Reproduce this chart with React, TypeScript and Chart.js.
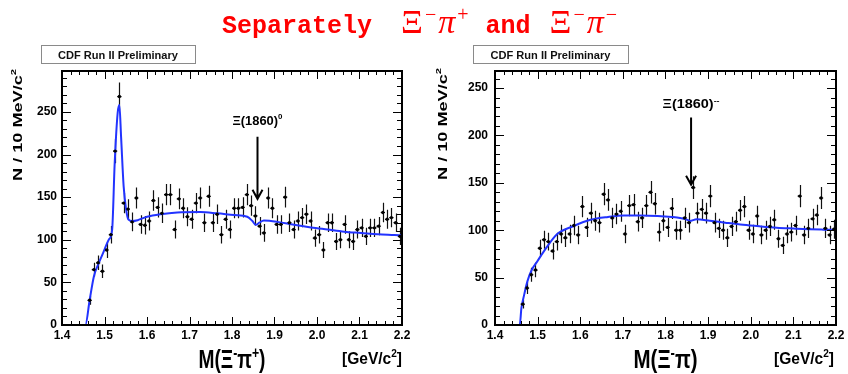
import React, { useEffect, useRef } from "react";
import { Chart, registerables } from "chart.js";

Chart.register(...registerables);

const FONT = '"Liberation Sans", Arial, Helvetica, sans-serif';

// ---- Data ----
const BIN_CENTERS = [
  1.405, 1.415, 1.425, 1.435, 1.445, 1.455, 1.465, 1.475, 1.485, 1.495,
  1.505, 1.515, 1.525, 1.535, 1.545, 1.555, 1.565, 1.575, 1.585, 1.595,
  1.605, 1.615, 1.625, 1.635, 1.645, 1.655, 1.665, 1.675, 1.685, 1.695,
  1.705, 1.715, 1.725, 1.735, 1.745, 1.755, 1.765, 1.775, 1.785, 1.795,
  1.805, 1.815, 1.825, 1.835, 1.845, 1.855, 1.865, 1.875, 1.885, 1.895,
  1.905, 1.915, 1.925, 1.935, 1.945, 1.955, 1.965, 1.975, 1.985, 1.995,
  2.005, 2.015, 2.025, 2.035, 2.045, 2.055, 2.065, 2.075, 2.085, 2.095,
  2.105, 2.115, 2.125, 2.135, 2.145, 2.155, 2.165, 2.175, 2.185, 2.195,
];

const XI_PI_PLUS_COUNTS: (number | null)[] = [
  null, null, null, null, null, null, 29, 65, 73, 63,
  88, 106, 204, 268, 143, 136, 121, 149, 118, 117,
  122, 146, 138, 131, 153, 153, 112, 148, 137, 127,
  124, 143, 149, 120, 151, 120, 130, 106, 124, 112,
  137, 137, 138, 153, 140, 128, 116, 108, 149, 137,
  118, 118, 150, 120, 112, 122, 126, 130, 122, 102,
  106, 88, 120, 120, 98, 100, 118, 100, 98, 112,
  114, 104, 114, 114, 116, 132, 124, 126, 120, 104,
];

const XI_PI_MINUS_COUNTS: (number | null)[] = [
  null, null, null, null, null, null, 22, 39, 53, 58,
  81, 90, 88, 78, 88, 96, 92, 96, 105, 95,
  125, 103, 118, 110, 108, 138, 132, 113, 117, 120,
  96, 126, 127, 109, 113, 126, 140, 128, 98, 110,
  103, 123, 100, 100, 113, 108, 145, 118, 122, 118,
  136, 108, 102, 100, 92, 104, 109, 121, 125, 100,
  96, 115, 95, 100, 104, 111, 91, 84, 96, 98,
  105, 136, 95, 102, 112, 116, 134, 102, 95, 101,
];

const FIT_PLUS_X = [
  1.4, 1.455, 1.465, 1.475, 1.486, 1.498, 1.51, 1.518, 1.524, 1.531,
  1.535, 1.539, 1.545, 1.551, 1.556, 1.565, 1.578, 1.6, 1.632, 1.671,
  1.726, 1.765, 1.805, 1.836, 1.848, 1.856, 1.864, 1.875, 1.907, 1.946,
  1.986, 2.025, 2.064, 2.104, 2.143, 2.182, 2.2,
];
const FIT_PLUS_Y = [
  0, 0, 29, 57, 72, 86, 100, 112, 190, 249,
  258, 221, 163, 135, 124, 122, 123, 127, 130, 132,
  132.5, 131, 129, 127, 122, 117.5, 120, 122.5, 121, 117.5,
  114.5, 112, 109.5, 108, 106.5, 105.5, 105,
];

const FIT_MINUS_X = [
  1.4, 1.458, 1.462, 1.468, 1.476, 1.486, 1.499, 1.515, 1.546, 1.585,
  1.624, 1.665, 1.703, 1.74, 1.781, 1.815, 1.834, 1.85, 1.857, 1.873,
  1.904, 1.94, 1.982, 2.02, 2.061, 2.1, 2.139, 2.17, 2.2,
];
const FIT_MINUS_Y = [
  0, 0, 18, 31, 46, 58, 67, 78, 96, 104.5,
  111, 114, 115.5, 115.5, 115, 114, 113, 111.2, 109.8, 111.5,
  110, 108, 105.8, 104.2, 102.7, 101.8, 101, 100.6, 100.3,
];

const X_TICKS = [1.4, 1.5, 1.6, 1.7, 1.8, 1.9, 2.0, 2.1, 2.2];
const Y_TICKS = [0, 50, 100, 150, 200, 250];

type Seg = { t: string; sup?: boolean };

function drawSegs(
  ctx: CanvasRenderingContext2D,
  segs: Seg[],
  x: number,
  y: number,
  size: number,
  align: "left" | "center" | "right",
  targetW?: number,
  weight = "bold"
) {
  const mainF = `${weight} ${size}px ${FONT}`;
  const supF = `${weight} ${Math.round(size * 0.62)}px ${FONT}`;
  const ws: number[] = [];
  let W = 0;
  for (const s of segs) {
    ctx.font = s.sup ? supF : mainF;
    const w = ctx.measureText(s.t).width;
    ws.push(w);
    W += w;
  }
  const sx = targetW ? targetW / W : 1;
  const total = W * sx;
  const x0 = align === "left" ? x : align === "center" ? x - total / 2 : x - total;
  ctx.save();
  ctx.translate(x0, y);
  ctx.scale(sx, 1);
  ctx.textAlign = "left";
  ctx.textBaseline = "alphabetic";
  let cx = 0;
  segs.forEach((s, i) => {
    ctx.font = s.sup ? supF : mainF;
    ctx.fillText(s.t, cx, s.sup ? -size * 0.42 : 0);
    cx += ws[i];
  });
  ctx.restore();
}

type PanelCfg = {
  offsetX: number;
  axisW: number;
  rightPad: number;
  yPad: number;
  yMax: number;
  counts: (number | null)[];
  fitX: number[];
  fitY: number[];
  box: [number, number, number, number];
  yTitleX: number;
  yTitleEnd: number;
  xTitle: Seg[];
  xTitleW: number;
  unitsRight: number;
  ann: Seg[];
  annW: number;
  annY: number;
  arrowX: number;
  arrowTop: number;
  arrowTip: number;
};

const decorPlugin = {
  id: "decor",
  beforeDatasetsDraw(chart: any, _args: any, cfg: PanelCfg) {
    const { ctx } = chart;
    const xs = chart.scales.x;
    const ys = chart.scales.y;
    const pts = chart.data.datasets[1].data as { x: number; y: number }[];
    ctx.save();
    ctx.strokeStyle = "#111";
    ctx.lineWidth = 1.2;
    ctx.beginPath();
    for (const p of pts) {
      const px = Math.round(xs.getPixelForValue(p.x)) + 0.5;
      const py = ys.getPixelForValue(p.y);
      const e = Math.sqrt(p.y);
      ctx.moveTo(px, ys.getPixelForValue(p.y - e));
      ctx.lineTo(px, ys.getPixelForValue(p.y + e));
      ctx.moveTo(xs.getPixelForValue(p.x - 0.005), py);
      ctx.lineTo(xs.getPixelForValue(p.x + 0.005), py);
    }
    ctx.stroke();
    ctx.restore();
  },
  afterDraw(chart: any, _args: any, cfg: PanelCfg) {
    const { ctx, chartArea: a } = chart;
    const xs = chart.scales.x;
    const ys = chart.scales.y;
    ctx.save();
    // inside ticks
    ctx.strokeStyle = "#000";
    ctx.lineWidth = 1;
    ctx.beginPath();
    for (let k = 0; k <= 40; k++) {
      const v = 1.4 + k * 0.02;
      const px = Math.round(xs.getPixelForValue(v)) + 0.5;
      const len = k % 5 === 0 ? 8 : 4;
      ctx.moveTo(px, a.bottom);
      ctx.lineTo(px, a.bottom - len);
      ctx.moveTo(px, a.top);
      ctx.lineTo(px, a.top + len);
    }
    for (let v = 0; v <= cfg.yMax; v += 10) {
      const py = Math.round(ys.getPixelForValue(v)) + 0.5;
      const len = v % 50 === 0 ? 9 : 5;
      ctx.moveTo(a.left, py);
      ctx.lineTo(a.left + len, py);
      ctx.moveTo(a.right, py);
      ctx.lineTo(a.right - len, py);
    }
    ctx.stroke();
    // frame
    ctx.lineWidth = 2;
    ctx.strokeRect(a.left, a.top, a.right - a.left, a.bottom - a.top);

    // arrow annotation
    const ax = xs.getPixelForValue(cfg.arrowX);
    const at = ys.getPixelForValue(cfg.arrowTop);
    const ab = ys.getPixelForValue(cfg.arrowTip);
    ctx.lineWidth = 2;
    ctx.beginPath();
    ctx.moveTo(ax, at);
    ctx.lineTo(ax, ab);
    ctx.moveTo(ax - 5, ab - 9);
    ctx.lineTo(ax, ab);
    ctx.lineTo(ax + 5, ab - 9);
    ctx.stroke();
    ctx.fillStyle = "#000";
    drawSegs(ctx, cfg.ann, ax, ys.getPixelForValue(cfg.annY), 13, "center", cfg.annW);

    // CDF label box
    const [bx, by, bw, bh] = cfg.box;
    ctx.fillStyle = "#fff";
    ctx.fillRect(bx, by, bw, bh);
    ctx.strokeStyle = "#8a8a8a";
    ctx.lineWidth = 1;
    ctx.strokeRect(bx + 0.5, by + 0.5, bw, bh);
    ctx.fillStyle = "#111";
    drawSegs(ctx, [{ t: "CDF Run II Preliminary" }], bx + bw / 2, by + 13.5, 11, "center", 120);

    // axis titles
    ctx.fillStyle = "#000";
    drawSegs(ctx, cfg.xTitle, (a.left + a.right) / 2, 368, 25, "center", cfg.xTitleW);
    drawSegs(ctx, [{ t: "[GeV/c" }, { t: "2", sup: true }, { t: "]" }], cfg.unitsRight, 364, 17, "right", 60);
    ctx.save();
    ctx.translate(cfg.yTitleX, cfg.yTitleEnd);
    ctx.rotate(-Math.PI / 2);
    drawSegs(ctx, [{ t: "N / 10 MeV/c" }, { t: "2", sup: true }], 0, 0, 13, "right", 112);
    ctx.restore();
    ctx.restore();
  },
};

function Panel({ cfg }: { cfg: PanelCfg }) {
  const ref = useRef<HTMLCanvasElement>(null);
  useEffect(() => {
    if (!ref.current) return;
    const pts = BIN_CENTERS.map((x, i) => ({ x, y: cfg.counts[i] })).filter(
      (p) => p.y !== null
    ) as { x: number; y: number }[];
    const fit = cfg.fitX.map((x, i) => ({ x, y: cfg.fitY[i] }));
    const tickFont = { size: 12, weight: "bold" as const, family: FONT };
    const chart = new Chart(ref.current, {
      type: "scatter",
      data: {
        datasets: [
          {
            type: "line",
            data: fit,
            borderColor: "#2233ff",
            borderWidth: 2,
            pointRadius: 0,
            cubicInterpolationMode: "monotone",
            fill: false,
            order: 2,
          } as any,
          {
            type: "scatter",
            data: pts,
            backgroundColor: "#000",
            borderColor: "#000",
            borderWidth: 0,
            pointRadius: 1.7,
            order: 1,
          },
        ],
      },
      options: {
        responsive: false,
        animation: false,
        devicePixelRatio: 1,
        events: [],
        layout: { padding: { left: 0, right: cfg.rightPad, top: 71, bottom: 0 } },
        plugins: {
          legend: { display: false },
          tooltip: { enabled: false },
          title: { display: false },
          decor: cfg,
        } as any,
        scales: {
          x: {
            type: "linear",
            min: 1.4,
            max: 2.2,
            grid: { display: false, drawTicks: false },
            border: { display: false },
            afterBuildTicks: (s: any) => {
              s.ticks = X_TICKS.map((value) => ({ value }));
            },
            ticks: {
              padding: 3,
              color: "#000",
              font: tickFont,
              maxRotation: 0,
              autoSkip: false,
              callback: (v: any) => Number(v).toFixed(1),
            },
            afterFit: (s: any) => {
              s.height = 49;
            },
          },
          y: {
            type: "linear",
            min: 0,
            max: cfg.yMax,
            grid: { display: false, drawTicks: false },
            border: { display: false },
            afterBuildTicks: (s: any) => {
              s.ticks = Y_TICKS.map((value) => ({ value }));
            },
            ticks: {
              padding: cfg.yPad,
              color: "#000",
              font: tickFont,
              autoSkip: false,
              callback: (v: any) => String(v),
            },
            afterFit: (s: any) => {
              s.width = cfg.axisW;
            },
          },
        },
      } as any,
      plugins: [decorPlugin as any],
    });
    return () => chart.destroy();
  }, [cfg]);
  return (
    <canvas
      ref={ref}
      width={424}
      height={374}
      style={{ position: "absolute", left: cfg.offsetX, top: 0, width: 424, height: 374, display: "block" }}
    />
  );
}

const LEFT: PanelCfg = {
  offsetX: 0,
  axisW: 62,
  rightPad: 22,
  yPad: 5,
  yMax: 298,
  counts: XI_PI_PLUS_COUNTS,
  fitX: FIT_PLUS_X,
  fitY: FIT_PLUS_Y,
  box: [41, 45, 154, 18],
  yTitleX: 21.5,
  yTitleEnd: 69,
  xTitle: [{ t: "M(Ξ" }, { t: "-", sup: true }, { t: "π" }, { t: "+", sup: true }, { t: ")" }],
  xTitleW: 67,
  unitsRight: 402,
  ann: [{ t: "Ξ(1860)" }, { t: "0", sup: true }],
  annW: 50,
  annY: 235,
  arrowX: 1.86,
  arrowTop: 221,
  arrowTip: 148,
};

const RIGHT: PanelCfg = {
  offsetX: 424,
  axisW: 71,
  rightPad: 12,
  yPad: 7,
  yMax: 268,
  counts: XI_PI_MINUS_COUNTS,
  fitX: FIT_MINUS_X,
  fitY: FIT_MINUS_Y,
  box: [49, 45, 155, 18],
  yTitleX: 22.5,
  yTitleEnd: 68,
  xTitle: [{ t: "M(Ξ" }, { t: "-", sup: true }, { t: "π)" }],
  xTitleW: 64,
  unitsRight: 410,
  ann: [{ t: "Ξ(1860)" }, { t: "--", sup: true }],
  annW: 57,
  annY: 229,
  arrowX: 1.86,
  arrowTop: 219,
  arrowTip: 148,
};

const MONO = '"Liberation Mono", "Courier New", monospace';
const SERIF = '"Liberation Serif", "Times New Roman", serif';
const supStyle: React.CSSProperties = {
  fontSize: 20,
  position: "relative",
  top: -12,
  marginLeft: 2,
  marginRight: 2,
};

function Greek({ charge, lead }: { charge: string; lead: number }) {
  return (
    <span style={{ fontFamily: SERIF, fontWeight: "normal", fontSize: 34, marginLeft: lead }}>
      Ξ<span style={supStyle}>−</span>
      <i>π</i>
      <span style={supStyle}>{charge}</span>
    </span>
  );
}

export default function App() {
  useEffect(() => {
    document.body.style.margin = "0";
  }, []);
  return (
    <div style={{ position: "fixed", left: 0, top: 0, width: 848, height: 374, background: "#fff", overflow: "hidden" }}>
      <Panel cfg={LEFT} />
      <Panel cfg={RIGHT} />
      <div
        style={{
          position: "absolute",
          left: 222,
          top: 2,
          height: 40,
          textAlign: "left",
          color: "#ff0000",
          fontFamily: MONO,
          fontWeight: "bold",
          fontSize: 25,
          lineHeight: "40px",
          whiteSpace: "nowrap",
        }}
      >
        Separately <Greek charge="+" lead={14} /> and <Greek charge="−" lead={4} />
      </div>
    </div>
  );
}
